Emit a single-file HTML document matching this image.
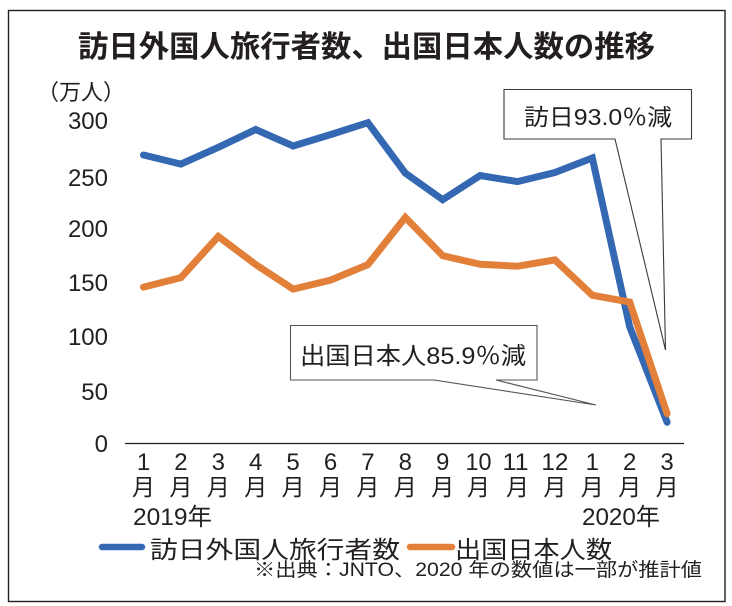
<!DOCTYPE html>
<html><head><meta charset="utf-8"><style>
html,body{margin:0;padding:0;background:#fff;}
svg{display:block;}
text{font-family:"Liberation Sans","Noto Sans CJK JP",sans-serif;fill:#231f20;}
</style></head><body>
<svg width="732" height="606" viewBox="0 0 732 606" xmlns="http://www.w3.org/2000/svg">
<rect x="0" y="0" width="732" height="606" fill="#fff"/>
<rect x="8.5" y="10.5" width="716.5" height="591" fill="none" stroke="#231f20" stroke-width="1.4"/>
<text x="78" y="57" font-size="30" font-weight="700" textLength="577" lengthAdjust="spacingAndGlyphs">訪日外国人旅行者数、出国日本人数の推移</text>
<text x="37" y="100" font-size="22">（万人）</text>
<g font-size="24" text-anchor="end">
<text x="108" y="129">300</text>
<text x="108" y="186">250</text>
<text x="108" y="237">200</text>
<text x="108" y="291">150</text>
<text x="108" y="345">100</text>
<text x="108" y="400">50</text>
<text x="108" y="452">0</text>
</g>
<line x1="125" y1="443.5" x2="684" y2="443.5" stroke="#231f20" stroke-width="1.2"/>
<g font-size="24" text-anchor="middle">
<text x="143.5" y="470">1</text><text x="180.9" y="470">2</text><text x="218.3" y="470">3</text><text x="255.7" y="470">4</text><text x="293.1" y="470">5</text><text x="330.5" y="470">6</text><text x="367.9" y="470">7</text><text x="405.3" y="470">8</text><text x="442.7" y="470">9</text><text x="478.5" y="470" textLength="26" lengthAdjust="spacingAndGlyphs">10</text><text x="515.5" y="470" textLength="26" lengthAdjust="spacingAndGlyphs">11</text><text x="554.9" y="470" textLength="27" lengthAdjust="spacingAndGlyphs">12</text><text x="592.3" y="470">1</text><text x="629.7" y="470">2</text><text x="667.1" y="470">3</text>
</g>
<g font-size="23" text-anchor="middle">
<text x="143.5" y="495">月</text><text x="180.9" y="495">月</text><text x="218.3" y="495">月</text><text x="255.7" y="495">月</text><text x="293.1" y="495">月</text><text x="330.5" y="495">月</text><text x="367.9" y="495">月</text><text x="405.3" y="495">月</text><text x="442.7" y="495">月</text><text x="478.5" y="495">月</text><text x="517.5" y="495">月</text><text x="554.9" y="495">月</text><text x="592.3" y="495">月</text><text x="629.7" y="495">月</text><text x="667.1" y="495">月</text>
</g>
<text x="133" y="525" font-size="24" textLength="79" lengthAdjust="spacingAndGlyphs">2019年</text>
<text x="582" y="525" font-size="24" textLength="78" lengthAdjust="spacingAndGlyphs">2020年</text>
<path d="M504,89.5 H691.5 V139 H661 L665.5,350 L615,139 H504 Z" fill="#fff" stroke="#3a3a3a" stroke-width="1.1"/>
<text x="524" y="125" font-size="23" textLength="148" lengthAdjust="spacingAndGlyphs">訪日93.0％減</text>
<path d="M290.5,325.5 H537 V380 H496 L596,405 L434,380 H290.5 Z" fill="#fff" stroke="#555" stroke-width="1.1"/>
<text x="300" y="364" font-size="24" textLength="226" lengthAdjust="spacingAndGlyphs">出国日本人85.9％減</text>
<polyline fill="none" stroke="#3468b3" stroke-width="7" stroke-linecap="round" stroke-linejoin="miter" points="143.5,155.0 180.9,164.1 218.3,147.3 255.7,129.5 293.1,146.0 330.5,134.6 367.9,122.7 405.3,173.1 442.7,199.7 480.1,175.6 517.5,181.6 554.9,172.5 592.3,158.0 629.7,326.8 667.1,422.2"/>
<polyline fill="none" stroke="#e2803a" stroke-width="7" stroke-linecap="round" stroke-linejoin="miter" points="143.5,287.1 180.9,277.6 218.3,236.5 255.7,264.5 293.1,289.1 330.5,280.1 367.9,264.6 405.3,217.4 442.7,255.7 480.1,264.3 517.5,266.2 554.9,259.9 592.3,295.2 629.7,302.1 667.1,413.7"/>
<line x1="102" y1="547" x2="142" y2="547" stroke="#3468b3" stroke-width="6.5" stroke-linecap="round"/>
<text x="150" y="558" font-size="24" textLength="250" lengthAdjust="spacingAndGlyphs">訪日外国人旅行者数</text>
<line x1="410" y1="547" x2="452" y2="547" stroke="#e2803a" stroke-width="6.5" stroke-linecap="round"/>
<text x="455" y="558" font-size="24" textLength="157" lengthAdjust="spacingAndGlyphs">出国日本人数</text>
<text x="254" y="576" font-size="19" textLength="448" lengthAdjust="spacingAndGlyphs">※出典：JNTO、2020 年の数値は一部が推計値</text>
</svg>
</body></html>
